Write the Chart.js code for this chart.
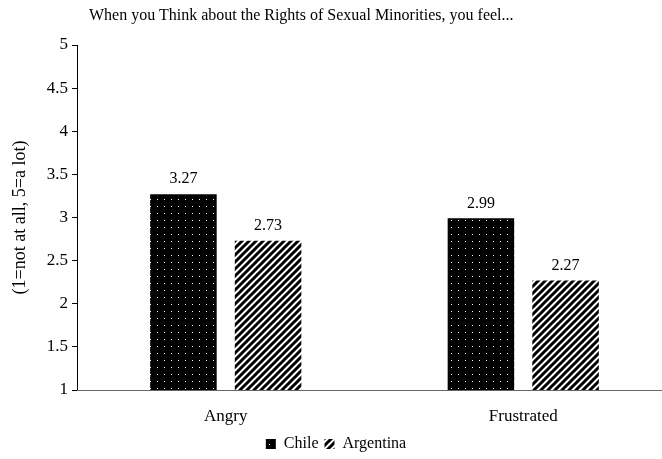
<!DOCTYPE html>
<html>
<head>
<meta charset="utf-8">
<script src="https://cdn.jsdelivr.net/npm/chart.js@4"></script>
<style>
  html, body { margin: 0; padding: 0; background: #fff; overflow: hidden; }
  #wrap { position: relative; width: 672px; height: 462px; }
  #title { position: absolute; left: 89px; top: 6px; font-family: "Liberation Serif", serif; font-size: 16px; color: #000; white-space: nowrap; }
</style>
</head>
<body>
<div id="wrap">
  <div id="title">When you Think about the Rights of Sexual Minorities, you feel...</div>
  <canvas id="chart" width="672" height="462"></canvas>
</div>
<script>
// chart data
var categories = ['Angry', 'Frustrated'];
var chileValues = [3.27, 2.99];
var argentinaValues = [2.73, 2.27];
var yTicks = [1, 1.5, 2, 2.5, 3, 3.5, 4, 4.5, 5];

// black with white dots
function dotPattern() {
  var c = document.createElement('canvas');
  c.width = 7; c.height = 7;
  var ctx = c.getContext('2d');
  ctx.fillStyle = '#000';
  ctx.fillRect(0, 0, 7, 7);
  ctx.fillStyle = '#fff';
  ctx.fillRect(3, 3, 1, 1);
  return ctx.createPattern(c, 'repeat');
}

// black diagonal stripes on white
function stripePattern() {
  var s = 7;
  var c = document.createElement('canvas');
  c.width = s; c.height = s;
  var ctx = c.getContext('2d');
  ctx.fillStyle = '#fff';
  ctx.fillRect(0, 0, s, s);
  ctx.strokeStyle = '#000';
  ctx.lineWidth = 3;
  ctx.beginPath();
  ctx.moveTo(-1, s + 1); ctx.lineTo(s + 1, -1);
  ctx.moveTo(-1, 1); ctx.lineTo(1, -1);
  ctx.moveTo(s - 1, s + 1); ctx.lineTo(s + 1, s - 1);
  ctx.stroke();
  return ctx.createPattern(c, 'repeat');
}

var serif = '"Liberation Serif", "Times New Roman", serif';

// value labels above each bar
var valueLabels = {
  id: 'valueLabels',
  afterDatasetsDraw: function(chart) {
    var ctx = chart.ctx;
    ctx.save();
    ctx.font = '16px ' + serif;
    ctx.fillStyle = '#000';
    ctx.textAlign = 'center';
    ctx.textBaseline = 'bottom';
    chart.data.datasets.forEach(function(ds, i) {
      chart.getDatasetMeta(i).data.forEach(function(bar, j) {
        ctx.fillText(ds.data[j].toFixed(2), bar.x, bar.y - 7);
      });
    });
    ctx.restore();
  }
};

var chartConfig = {
  type: 'bar',
  data: {
    labels: categories,
    datasets: [{
      label: 'Chile',
      data: chileValues,
      backgroundColor: dotPattern(),
      borderWidth: 0
    }, {
      label: 'Argentina',
      data: argentinaValues,
      backgroundColor: stripePattern(),
      borderWidth: 0
    }]
  },
  options: {
    responsive: false,
    animation: false,
    categoryPercentage: 0.569,
    barPercentage: 0.786,
    layout: { padding: { top: 45, right: 0, left: 0, bottom: 0 } },
    plugins: {
      title: { display: false },
      tooltip: { enabled: false },
      legend: {
        position: 'bottom',
        labels: {
          font: { family: serif, size: 16 },
          color: '#000',
          boxWidth: 10,
          boxHeight: 10,
          padding: 6
        }
      }
    },
    scales: {
      y: {
        min: 1,
        max: 5,
        afterBuildTicks: function(scale) {
          scale.ticks = yTicks.map(function(v) { return { value: v }; });
        },
        afterFit: function(scale) { scale.width = 77; },
        ticks: {
          font: { family: serif, size: 17 },
          color: '#000',
          padding: 4,
          callback: function(v) { return String(v); }
        },
        grid: {
          drawOnChartArea: false,
          drawTicks: true,
          tickLength: 5,
          color: '#000'
        },
        border: { display: true, color: '#000', width: 1 },
        title: {
          display: true,
          text: '(1=not at all, 5=a lot)',
          font: { family: serif, size: 18 },
          color: '#000',
          padding: { top: 9, bottom: 0 }
        }
      },
      x: {
        afterFit: function(scale) { scale.height = 40; },
        ticks: {
          font: { family: serif, size: 17 },
          color: '#000',
          padding: 8
        },
        grid: { display: false },
        border: { display: true, color: '#666', width: 1 }
      }
    }
  },
  plugins: [valueLabels]
};

var chart = new Chart(document.getElementById('chart').getContext('2d'), chartConfig);
</script>
</body>
</html>
